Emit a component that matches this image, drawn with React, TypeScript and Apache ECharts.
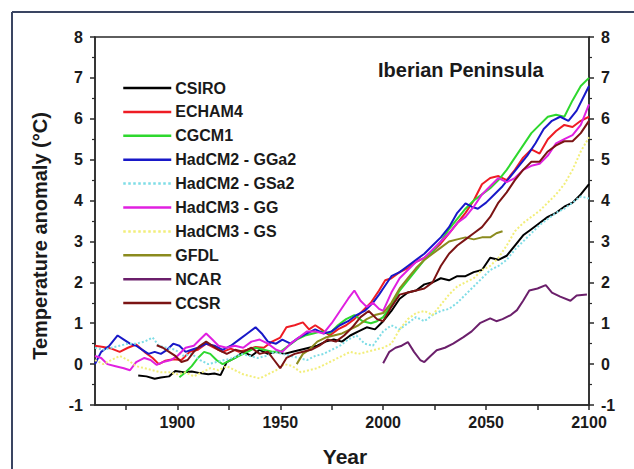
import React, { useEffect, useRef } from "react";
import * as echarts from "echarts";

const FONT = '"Liberation Sans", Arial, Helvetica, sans-serif';

const SERIES_NAMES = ["CSIRO", "ECHAM4", "CGCM1", "HadCM2 - GGa2", "HadCM2 - GSa2", "HadCM3 - GG", "HadCM3 - GS", "GFDL", "NCAR", "CCSR"];
const SERIES_COLORS = ["#000000", "#ee1c24", "#2ed82e", "#1818c8", "#7fdde6", "#e020e0", "#f2ee7a", "#8b8b1e", "#6b1f6b", "#7b1414"];
const SERIES_DOTTED = [false, false, false, false, true, false, true, false, false, false];

const X_LABELS = [1900, 1950, 2000, 2050, 2100];
const X_TICKS = [1875, 1900, 1925, 1950, 1975, 2000, 2025, 2050, 2075, 2100];

const CSIRO = [[1881,-0.28],[1885,-0.3],[1889,-0.36],[1892,-0.33],[1896,-0.3],[1899,-0.17],[1903,-0.2],[1907,-0.18],[1911,-0.22],[1915,-0.25],[1918,-0.23],[1921,-0.27],[1924,0.05],[1928,0.15],[1932,0.3],[1936,0.2],[1940,0.35],[1944,0.25],[1948,0.3],[1952,0.25],[1956,0.3],[1960,0.35],[1964,0.4],[1968,0.45],[1972,0.55],[1976,0.6],[1980,0.55],[1984,0.7],[1988,0.8],[1992,0.9],[1996,0.85],[2000,1.05],[2004,1.3],[2008,1.6],[2012,1.75],[2016,1.8],[2020,1.95],[2024,2.0],[2028,2.1],[2032,2.05],[2036,2.15],[2040,2.15],[2044,2.25],[2048,2.3],[2052,2.6],[2056,2.55],[2060,2.65],[2064,2.9],[2068,3.15],[2072,3.3],[2076,3.45],[2080,3.6],[2084,3.7],[2088,3.85],[2092,3.95],[2096,4.15],[2100,4.4]];
const ECHAM4 = [[1860,0.45],[1864,0.42],[1868,0.38],[1872,0.3],[1876,0.4],[1880,0.48],[1884,0.3],[1888,0.15],[1891,0.0],[1894,0.08],[1898,0.12],[1902,0.1],[1906,0.3],[1910,0.35],[1914,0.5],[1918,0.4],[1922,0.3],[1926,0.38],[1930,0.3],[1934,0.35],[1938,0.42],[1942,0.4],[1946,0.55],[1950,0.65],[1953,0.9],[1957,0.95],[1961,1.02],[1964,0.85],[1967,0.95],[1970,0.85],[1974,0.7],[1978,0.85],[1982,0.95],[1986,1.1],[1990,1.3],[1994,1.5],[1998,1.8],[2001,2.05],[2004,2.1],[2008,2.25],[2012,2.35],[2016,2.5],[2020,2.6],[2024,2.75],[2028,2.95],[2032,3.2],[2036,3.45],[2040,3.7],[2044,4.0],[2048,4.4],[2052,4.55],[2056,4.6],[2060,4.5],[2064,4.75],[2068,5.05],[2072,5.25],[2076,5.15],[2080,5.5],[2084,5.7],[2088,5.85],[2092,5.8],[2096,5.95],[2100,6.05]];
const CGCM1 = [[1901,-0.32],[1904,-0.2],[1907,-0.05],[1910,0.15],[1913,0.3],[1916,0.25],[1919,0.1],[1922,0.0],[1926,0.1],[1930,0.2],[1934,0.3],[1938,0.4],[1942,0.35],[1946,0.3],[1950,0.3],[1954,0.45],[1958,0.6],[1962,0.7],[1966,0.75],[1970,0.8],[1974,0.75],[1978,0.95],[1982,1.1],[1986,1.2],[1990,1.05],[1994,1.0],[1997,1.05],[2000,1.15],[2004,1.45],[2008,1.8],[2012,2.05],[2016,2.3],[2020,2.55],[2024,2.75],[2028,3.0],[2032,3.3],[2036,3.55],[2040,3.8],[2044,4.0],[2048,4.15],[2052,4.3],[2056,4.5],[2060,4.75],[2064,5.05],[2068,5.35],[2072,5.65],[2076,5.85],[2080,6.05],[2084,6.1],[2088,6.05],[2092,6.45],[2096,6.8],[2100,7.0]];
const HADCM2_GGA2 = [[1860,0.0],[1863,0.3],[1867,0.45],[1871,0.7],[1874,0.6],[1877,0.5],[1880,0.45],[1883,0.35],[1886,0.25],[1889,0.3],[1892,0.25],[1895,0.35],[1898,0.5],[1901,0.45],[1904,0.3],[1907,0.35],[1910,0.4],[1914,0.5],[1918,0.45],[1922,0.35],[1926,0.45],[1930,0.6],[1934,0.75],[1938,0.9],[1941,0.75],[1944,0.55],[1948,0.5],[1951,0.6],[1955,0.5],[1959,0.65],[1963,0.75],[1967,0.85],[1971,0.75],[1975,0.8],[1979,0.95],[1983,1.05],[1987,1.2],[1991,1.3],[1995,1.5],[1998,1.7],[2000,1.85],[2004,2.15],[2008,2.25],[2012,2.4],[2016,2.55],[2020,2.7],[2024,2.9],[2028,3.1],[2032,3.35],[2036,3.7],[2040,3.93],[2043,3.85],[2046,3.8],[2050,3.95],[2054,4.15],[2058,4.35],[2062,4.6],[2066,4.85],[2070,5.1],[2074,5.4],[2078,5.75],[2082,5.95],[2086,6.05],[2090,5.95],[2094,6.2],[2098,6.6],[2100,6.8]];
const HADCM2_GSA2 = [[1860,0.4],[1864,0.35],[1868,0.4],[1872,0.45],[1876,0.5],[1880,0.5],[1884,0.55],[1888,0.65],[1891,0.45],[1895,0.4],[1899,0.35],[1903,0.2],[1907,0.25],[1911,0.1],[1915,0.0],[1919,0.05],[1923,0.1],[1927,0.15],[1931,0.25],[1935,0.2],[1939,0.15],[1943,0.2],[1947,0.3],[1951,0.25],[1955,0.2],[1959,0.15],[1963,0.1],[1967,0.2],[1971,0.25],[1975,0.35],[1979,0.45],[1983,0.6],[1987,0.7],[1991,0.5],[1995,0.45],[2000,0.8],[2004,0.95],[2008,0.85],[2012,1.0],[2016,1.15],[2020,1.05],[2024,1.2],[2028,1.3],[2032,1.35],[2036,1.5],[2040,1.7],[2044,1.9],[2048,2.1],[2052,2.3],[2056,2.4],[2060,2.55],[2064,2.8],[2068,3.0],[2072,3.2],[2076,3.4],[2080,3.55],[2084,3.7],[2088,3.8],[2092,3.95],[2096,4.1],[2100,4.05]];
const HADCM3_GG = [[1860,0.2],[1863,0.15],[1866,0.0],[1870,-0.05],[1874,-0.1],[1877,-0.15],[1880,0.05],[1884,0.15],[1887,0.1],[1890,-0.02],[1893,0.05],[1897,0.1],[1900,0.2],[1904,0.4],[1908,0.45],[1911,0.6],[1914,0.75],[1917,0.6],[1920,0.45],[1924,0.4],[1928,0.45],[1932,0.4],[1936,0.55],[1940,0.6],[1944,0.5],[1948,0.35],[1951,0.3],[1955,0.5],[1959,0.65],[1963,0.8],[1967,0.8],[1971,0.75],[1975,1.0],[1979,1.3],[1983,1.6],[1986,1.8],[1989,1.55],[1992,1.4],[1995,1.5],[1998,1.35],[2000,1.3],[2004,1.75],[2008,2.1],[2012,2.3],[2016,2.5],[2020,2.6],[2024,2.8],[2028,3.0],[2032,3.2],[2036,3.45],[2040,3.6],[2044,3.85],[2048,4.15],[2052,4.35],[2056,4.55],[2060,4.45],[2064,4.55],[2068,4.75],[2072,4.85],[2076,4.9],[2080,5.1],[2084,5.4],[2088,5.5],[2092,5.6],[2096,5.85],[2100,6.35]];
const HADCM3_GS = [[1860,0.1],[1864,0.0],[1868,0.1],[1872,0.2],[1876,0.1],[1880,-0.05],[1884,-0.1],[1888,-0.15],[1892,-0.2],[1896,-0.2],[1900,-0.25],[1904,-0.2],[1908,-0.3],[1912,-0.2],[1916,-0.1],[1920,-0.15],[1924,-0.05],[1928,-0.15],[1932,-0.25],[1936,-0.3],[1940,-0.35],[1944,-0.25],[1948,-0.15],[1952,0.0],[1956,-0.05],[1960,-0.2],[1964,-0.15],[1968,-0.1],[1972,0.0],[1976,0.1],[1980,0.2],[1984,0.3],[1988,0.25],[1992,0.3],[1996,0.35],[2000,0.4],[2004,0.5],[2008,0.85],[2012,1.1],[2016,1.25],[2020,1.3],[2024,1.2],[2028,1.45],[2032,1.7],[2036,1.9],[2040,2.0],[2044,2.1],[2048,2.3],[2052,2.4],[2056,2.6],[2060,2.9],[2064,3.25],[2068,3.45],[2072,3.6],[2076,3.75],[2080,3.95],[2084,4.15],[2088,4.4],[2092,4.75],[2096,5.2],[2100,5.55]];
const GFDL = [[1958,0.0],[1961,0.25],[1964,0.35],[1968,0.55],[1972,0.65],[1976,0.7],[1980,0.75],[1984,0.85],[1988,0.95],[1992,1.1],[1996,1.2],[2000,1.25],[2004,1.5],[2008,1.85],[2012,2.1],[2016,2.35],[2020,2.55],[2024,2.7],[2028,2.85],[2032,3.0],[2036,3.05],[2040,3.1],[2044,3.05],[2048,3.1],[2052,3.1],[2055,3.2],[2058,3.25]];
const NCAR = [[2000,0.02],[2003,0.3],[2006,0.4],[2009,0.45],[2012,0.54],[2015,0.3],[2018,0.1],[2020,0.05],[2023,0.2],[2026,0.34],[2030,0.4],[2034,0.5],[2039,0.66],[2043,0.8],[2047,1.0],[2052,1.12],[2055,1.05],[2058,1.1],[2062,1.2],[2065,1.32],[2068,1.55],[2071,1.8],[2075,1.85],[2079,1.93],[2082,1.75],[2086,1.65],[2091,1.55],[2094,1.68],[2099,1.7]];
const CCSR = [[1890,0.46],[1893,0.4],[1896,0.3],[1899,0.2],[1902,0.05],[1905,0.1],[1908,0.3],[1911,0.45],[1914,0.55],[1917,0.45],[1920,0.35],[1924,0.25],[1928,0.35],[1932,0.3],[1936,0.4],[1940,0.25],[1944,0.3],[1947,0.1],[1950,-0.1],[1953,0.15],[1957,0.25],[1961,0.3],[1965,0.35],[1969,0.45],[1973,0.6],[1977,0.55],[1981,0.7],[1985,0.9],[1989,1.15],[1993,1.3],[1997,1.1],[2000,1.05],[2004,1.4],[2008,1.7],[2012,1.75],[2016,1.8],[2020,1.85],[2024,2.0],[2028,2.4],[2032,2.7],[2036,2.9],[2040,3.05],[2044,3.2],[2048,3.35],[2052,3.6],[2056,3.95],[2060,4.2],[2064,4.5],[2068,4.75],[2072,4.95],[2076,4.95],[2080,5.2],[2084,5.35],[2088,5.45],[2092,5.45],[2096,5.65],[2100,5.95]];

const SERIES_DATA = [CSIRO, ECHAM4, CGCM1, HADCM2_GGA2, HADCM2_GSA2, HADCM3_GG, HADCM3_GS, GFDL, NCAR, CCSR];

export default function App() {
  const ref = useRef<HTMLDivElement>(null);
  useEffect(() => {
    if (!ref.current) return;
    const chart = echarts.init(ref.current, null, { renderer: "svg" });
    const axisColor = "#2a2a2a";
    const labelStyle = { color: "#1a1a1a", fontSize: 16, fontWeight: "bold" as const, fontFamily: FONT };
    const yAxisBase = {
      type: "value" as const,
      min: -1,
      max: 8,
      interval: 1,
      splitLine: { show: false },
      axisLine: { show: true, onZero: false, lineStyle: { color: axisColor, width: 1.5 } },
      axisTick: { show: true, length: 5, lineStyle: { color: axisColor, width: 1.5 } },
      minorTick: { show: true, splitNumber: 2, length: 3, lineStyle: { color: axisColor, width: 1.2 } },
      axisLabel: { ...labelStyle, margin: 12 },
    };
    chart.setOption({
      animation: false,
      backgroundColor: "#ffffff",
      title: {
        text: "Iberian Peninsula",
        left: 373,
        top: 55,
        textStyle: { fontSize: 20, fontWeight: "bold", color: "#1a1a1a", fontFamily: FONT },
      },
      legend: {
        orient: "vertical",
        left: 122,
        top: 80,
        padding: 0,
        itemWidth: 48,
        itemHeight: 14,
        itemGap: 7.9,
        selectedMode: false,
        data: SERIES_NAMES,
        itemStyle: { opacity: 0 },
        lineStyle: { width: 2.5 },
        textStyle: { fontSize: 16, fontWeight: "bold", color: "#1a1a1a", fontFamily: FONT, padding: [0, 0, 0, -1] },
      },
      grid: {
        left: 95,
        right: 45,
        top: 37,
        bottom: 64,
        show: true,
        borderColor: axisColor,
        borderWidth: 1.5,
        backgroundColor: "transparent",
      },
      xAxis: {
        type: "value",
        min: 1860,
        max: 2100,
        splitLine: { show: false },
        axisLine: { show: true, onZero: false, lineStyle: { color: axisColor, width: 1.5 } },
        axisTick: { show: true, length: 5, customValues: X_TICKS, lineStyle: { color: axisColor, width: 1.5 } },
        axisLabel: { ...labelStyle, margin: 9, customValues: X_LABELS, formatter: (v: number) => String(v) },
      },
      yAxis: [
        { ...yAxisBase, position: "left" },
        { ...yAxisBase, position: "right" },
      ],
      graphic: [
        {
          type: "line",
          shape: { x1: 12, y1: 12, x2: 640, y2: 12 },
          style: { stroke: "#3a4562", lineWidth: 2 },
          silent: true,
        },
        {
          type: "line",
          shape: { x1: 12, y1: 12, x2: 12, y2: 480 },
          style: { stroke: "#3a4562", lineWidth: 2 },
          silent: true,
        },
        {
          type: "text",
          x: 40,
          y: 236,
          rotation: Math.PI / 2,
          style: {
            text: "Temperature anomaly (°C)",
            fill: "#1a1a1a",
            font: `bold 20px ${FONT}`,
            textAlign: "center",
            textVerticalAlign: "middle",
          },
        },
        {
          type: "text",
          x: 345,
          y: 456,
          style: {
            text: "Year",
            fill: "#1a1a1a",
            font: `bold 21px ${FONT}`,
            textAlign: "center",
            textVerticalAlign: "middle",
          },
        },
      ],
      series: SERIES_NAMES.map((name, i) => ({
        name,
        type: "line",
        yAxisIndex: 0,
        data: SERIES_DATA[i],
        symbol: "none",
        showSymbol: false,
        color: SERIES_COLORS[i],
        lineStyle: { color: SERIES_COLORS[i], width: 2, type: SERIES_DOTTED[i] ? "dotted" : "solid" },
        z: 2,
      })),
    });
    return () => chart.dispose();
  }, []);
  return (
    <div style={{ position: "fixed", left: 0, top: 0, width: 634, height: 469, background: "#fff" }}>
      <div ref={ref} style={{ width: 634, height: 469 }} />
    </div>
  );
}
